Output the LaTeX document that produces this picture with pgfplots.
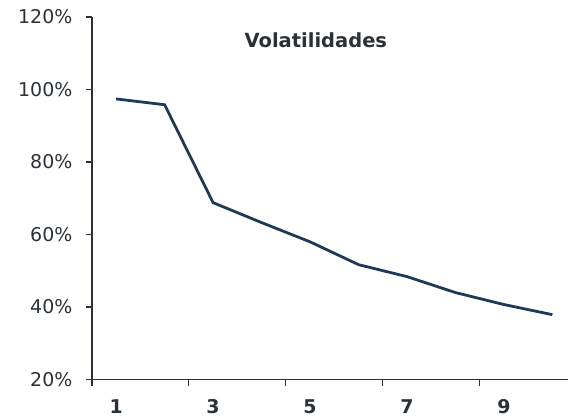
\documentclass[border=0pt]{standalone}
\usepackage{pgfplots}
\pgfplotsset{compat=1.18}
\usepackage{fontspec}
\setmainfont{DejaVu Sans}
\definecolor{txt}{HTML}{2B3137}
\definecolor{ln}{HTML}{1F3A56}
\begin{document}
\begin{tikzpicture}
\begin{axis}[
  scale only axis, width=477pt, height=363pt,
  xmin=0.5, xmax=10.33, ymin=20, ymax=120,
  axis lines=left, axis line style={-, color=txt, line width=1.2pt},
  tick align=outside, tick style={color=txt, line width=1.2pt},
  major tick length=6pt,
  xtick={0.5,2.5,4.5,6.5,8.5}, xticklabels={},
  extra x ticks={1,3,5,7,9}, extra x tick labels={1,3,5,7,9},
  extra x tick style={major tick length=0pt,
    xticklabel style={font=\fontsize{19}{22}\selectfont\bfseries,
      text height=14pt, text depth=0pt, yshift=-16pt}},
  ytick={20,40,60,80,100,120},
  yticklabels={20\%,40\%,60\%,80\%,100\%,120\%},
  ticklabel style={font=\fontsize{19}{22}\selectfont, text=txt},
  yticklabel style={xshift=-10pt},
  clip=false,
]
\addplot[color=ln, line width=2.8pt] coordinates {
  (1,97.4) (2,95.8) (3,68.8) (4,63.3) (5,58.0)
  (6,51.7) (7,48.4) (8,44.0) (9,40.7) (10,37.9)
};
\node[font=\fontsize{19.5}{22}\selectfont\bfseries, text=txt] at (axis cs:5.12,113.7) {Volatilidades};
\end{axis}
\path ([shift={(-92pt,-38pt)}]current axis.south west) rectangle ([shift={(0pt,17pt)}]current axis.north east);
\end{tikzpicture}
\end{document}
